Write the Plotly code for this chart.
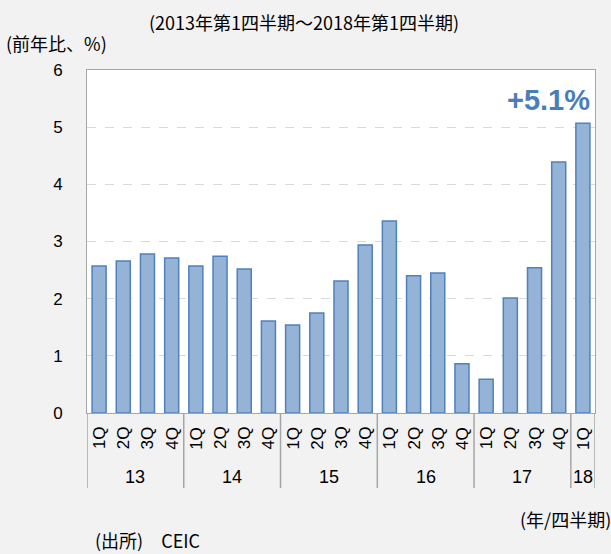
import plotly.graph_objects as go

years = ["13", "14", "15", "16", "17", "18"]
quarters_per_year = [4, 4, 4, 4, 4, 1]
quarter_labels = ["1Q", "2Q", "3Q", "4Q"] * 5 + ["1Q"]
values = [2.57, 2.66, 2.78, 2.71,
          2.57, 2.74, 2.52, 1.61,
          1.54, 1.75, 2.31, 2.94,
          3.36, 2.40, 2.45, 0.86,
          0.59, 2.01, 2.54, 4.39,
          5.07]
y_ticks = [0, 1, 2, 3, 4, 5, 6]

title_text = "(2013年第1四半期～2018年第1四半期)"
y_unit = "(前年比、%)"
x_unit = "(年/四半期)"
source = "(出所)　CEIC"
callout = "+5.1%"

JP = "Noto Sans CJK JP"
LAT = "Liberation Sans, Arial"

xs = list(range(len(values)))
fig = go.Figure()
fig.add_trace(go.Bar(
    x=xs, y=values, width=0.58,
    marker=dict(color="#95b3d7", line=dict(color="#4f81bd", width=1.5)),
    hoverinfo="skip",
))

W, H = 611, 554
L, R, T, B = 87, 16, 70, 141
plot_w = W - L - R
plot_h = H - T - B

fig.update_layout(
    width=W, height=H,
    margin=dict(l=L, r=R, t=T, b=B, pad=0),
    paper_bgcolor="#f2f2f2", plot_bgcolor="#ffffff",
    showlegend=False, bargap=0.4,
    xaxis=dict(range=[-0.5, len(values) - 0.5], showticklabels=False,
               showgrid=False, zeroline=False, showline=True,
               linecolor="#a6a6a6", linewidth=1, mirror=True, fixedrange=True),
    yaxis=dict(range=[0, 6], tickvals=y_ticks, showgrid=True,
               gridcolor="#d9d9d9", griddash="dash", gridwidth=1,
               zeroline=False, showline=True, linecolor="#a6a6a6",
               linewidth=1, mirror=True, ticklabelstandoff=20,
               tickfont=dict(family=LAT, size=17, color="#000000"),
               fixedrange=True),
)

def py(p):
    return (H - B - p) / plot_h

def px(p):
    return (p - L) / plot_w

# quarter labels (rotated)
for i, q in enumerate(quarter_labels):
    fig.add_annotation(x=i, y=py(438), xref="x", yref="paper", text=q,
                       textangle=-90, showarrow=False,
                       font=dict(family=LAT, size=17, color="#000000"),
                       xanchor="center", yanchor="middle")

# year labels and separators
start = 0
for yr, n in zip(years, quarters_per_year):
    center = start + (n - 1) / 2
    fig.add_annotation(x=center, y=py(477), xref="x", yref="paper", text=yr,
                       showarrow=False,
                       font=dict(family=LAT, size=18, color="#000000"),
                       xanchor="center", yanchor="middle")
    start += n
bounds = [-0.5]
acc = -0.5
for n in quarters_per_year:
    acc += n
    bounds.append(acc)
for b in bounds:
    fig.add_shape(type="line", x0=b, x1=b, xref="x", yref="paper",
                  y0=0, y1=py(488), line=dict(color="#a6a6a6", width=1.5))

# callout
fig.add_annotation(x=px(591), y=py(100), xref="paper", yref="paper",
                   text="<b>" + callout + "</b>", showarrow=False,
                   font=dict(family=LAT, size=29, color="#4a7ebb"),
                   xanchor="right", yanchor="middle", borderpad=0)

# texts
fig.add_annotation(x=px(147), y=py(22), xref="paper", yref="paper",
                   text=title_text, showarrow=False, xanchor="left",
                   yanchor="middle", font=dict(family=JP, size=18, color="#000"))
fig.add_annotation(x=px(4), y=py(43), xref="paper", yref="paper",
                   text=y_unit, showarrow=False, xanchor="left",
                   yanchor="middle", font=dict(family=JP, size=18, color="#000"))
fig.add_annotation(x=px(612), y=py(519), xref="paper", yref="paper",
                   text=x_unit, showarrow=False, xanchor="right",
                   yanchor="middle", font=dict(family=JP, size=18, color="#000"),
                   borderpad=0)
fig.add_annotation(x=px(94), y=py(540), xref="paper", yref="paper",
                   text=source, showarrow=False, xanchor="left",
                   yanchor="middle", font=dict(family=JP, size=18, color="#000"),
                   borderpad=0)

fig.write_html("out.html", config={"displayModeBar": False},
               post_script="document.body.style.margin='0';document.body.style.background='#f2f2f2';")
